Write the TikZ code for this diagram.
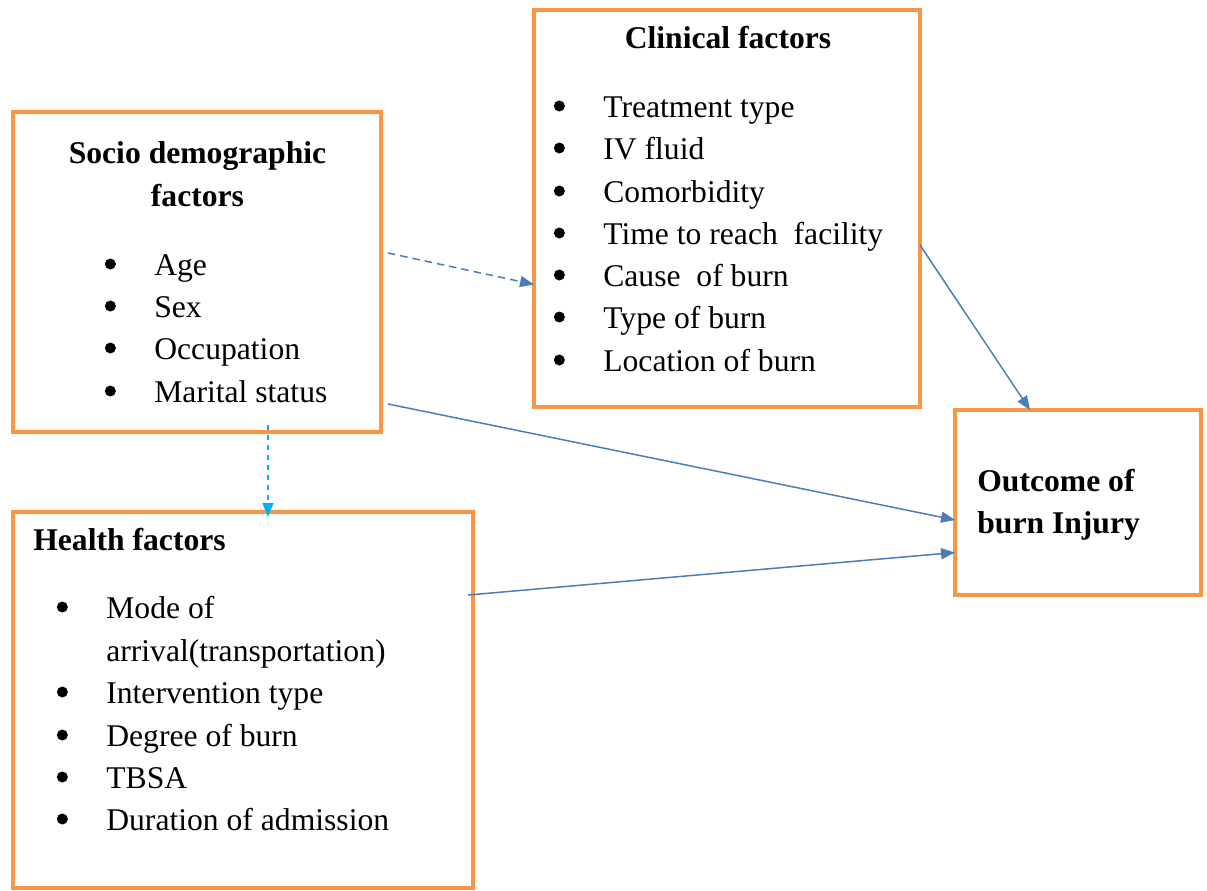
\documentclass[tikz,border=0pt]{standalone}
\usepackage{fontspec}
\setmainfont{Liberation Serif}
\usepackage{tikz}
\usetikzlibrary{arrows.meta}
\definecolor{boxOrange}{HTML}{F79646}
\definecolor{arrowBlue}{HTML}{4A7EBB}
\definecolor{arrowCyan}{HTML}{00B0F0}
\newcommand{\itembullet}{\llap{\makebox[0.88cm][l]{\hspace*{-0.11cm}\tikz[baseline=-0.22cm]\fill (0,0) circle (0.11cm);}}}
\tikzset{
  factorbox/.style={
    draw=boxOrange, line width=0.08cm,
    inner sep=0pt, outer sep=0pt
  },
  headtext/.style={font=\fontsize{18pt}{22pt}\selectfont\bfseries, inner sep=0pt, anchor=base},
  itemtext/.style={font=\fontsize{18pt}{22pt}\selectfont, inner sep=0pt, anchor=base west},
  arr/.style={-{Triangle[length=0.28cm, width=0.22cm]}, line width=0.03cm, #1},
  dasharr/.style={arr=#1, dash pattern=on 0.15cm off 0.1cm}
}

\begin{document}
\begin{tikzpicture}[x=0.02cm, y=-0.02cm]
\useasboundingbox (0,0) rectangle (1207,890);

% boxes
\node[factorbox, minimum width=7.36cm, minimum height=6.4cm] (socio) at (197,272) {};
\node[factorbox, minimum width=7.72cm, minimum height=7.94cm] (clinical) at (727,208.5) {};
\node[factorbox, minimum width=9.2cm, minimum height=7.52cm] (health) at (243,700) {};
\node[factorbox, minimum width=4.92cm, minimum height=3.7cm] (outcome) at (1078,502.5) {};

% socio demographic
\node[headtext] (socHead) at (197.5,163) {Socio demographic};
\node[headtext] (socHeadB) at (197.5,206) {factors};
\node[itemtext] (socAge) at (154,275) {\itembullet Age};
\node[itemtext] (socSex) at (154,317) {\itembullet Sex};
\node[itemtext] (socOcc) at (154,359) {\itembullet Occupation};
\node[itemtext] (socMar) at (154,402) {\itembullet Marital status};

% clinical
\node[headtext] (cliHead) at (728,48) {Clinical factors};
\node[itemtext] (cliTreat) at (603,117) {\itembullet Treatment type};
\node[itemtext] (cliFluid) at (603,159) {\itembullet IV fluid};
\node[itemtext] (cliComo) at (603,202) {\itembullet Comorbidity};
\node[itemtext] (cliTime) at (603,244) {\itembullet Time to reach\ \ facility};
\node[itemtext] (cliCause) at (603,286) {\itembullet Cause\ \ of burn};
\node[itemtext] (cliType) at (603,328) {\itembullet Type of burn};
\node[itemtext] (cliLoc) at (603,371) {\itembullet Location of burn};

% health
\node[headtext, anchor=base west] (heaHead) at (33,550) {Health factors};
\node[itemtext] (heaMode) at (106,618) {\itembullet Mode of};
\node[itemtext] (heaModeB) at (106,661) {arrival(transportation)};
\node[itemtext] (heaInt) at (106,703) {\itembullet Intervention type};
\node[itemtext] (heaDeg) at (106,746) {\itembullet Degree of burn};
\node[itemtext] (heaTbsa) at (106,788) {\itembullet TBSA};
\node[itemtext] (heaDur) at (106,830) {\itembullet Duration of admission};

% outcome
\node[headtext, anchor=base west] (outHead) at (977,491) {Outcome of};
\node[headtext, anchor=base west] (outHeadB) at (977,533) {burn Injury};

% connectors
\coordinate (socR) at ([xshift=0.14cm, yshift=0.38cm]socio.east);
\coordinate (socRB) at ([xshift=0.14cm, yshift=-2.64cm]socio.east);
\coordinate (socB) at ([xshift=1.42cm, yshift=0.14cm]socio.south);
\draw[dasharr=arrowBlue] (socR) -- ([yshift=-1.52cm]clinical.west);
\draw[arr=arrowCyan, dash pattern=on 0.1cm off 0.1cm] (socB) -- ([yshift=-0.1cm]socB |- health.north);
\draw[arr=arrowBlue] ([yshift=-0.73cm]clinical.east) -- ([xshift=-0.96cm]outcome.north);
\draw[arr=arrowBlue] (socRB) -- ([yshift=-0.35cm]outcome.west);
\draw[arr=arrowBlue] ([xshift=-0.1cm, yshift=2.1cm]health.east) -- ([yshift=-1.0cm]outcome.west);

\end{tikzpicture}
\end{document}
